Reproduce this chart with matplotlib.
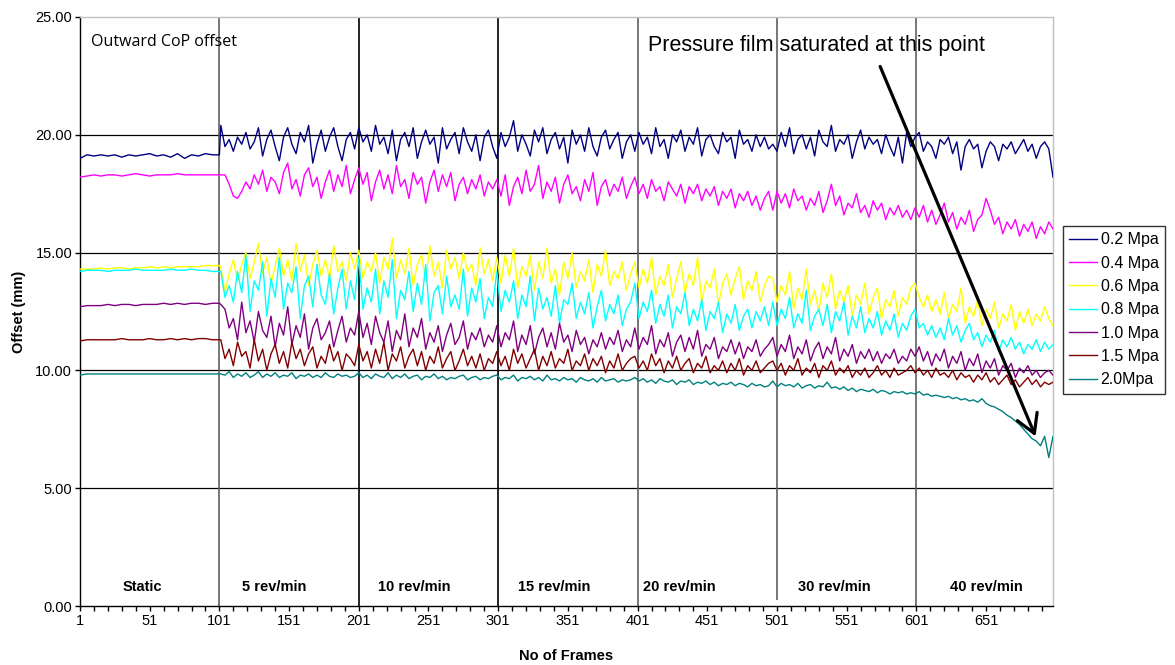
import numpy as np
import matplotlib
matplotlib.use("Agg")
import matplotlib.pyplot as plt

plt.rcParams['font.family'] = ['Liberation Sans', 'DejaVu Sans']

# ---------------- data ----------------
series_names = ["0.2 Mpa", "0.4 Mpa", "0.6 Mpa", "0.8 Mpa", "1.0 Mpa", "1.5 Mpa", "2.0Mpa"]
series_colors = ["#000080", "#FF00FF", "#FFFF00", "#00FFFF", "#800080", "#800000", "#008080"]

static_frames = np.arange(1, 102, 5)      # 21 samples, frames 1..101
dynamic_frames = np.arange(102, 700, 3)   # 200 samples, frames 102..699

segment_names = ["Static", "5 rev/min", "10 rev/min", "15 rev/min", "20 rev/min", "30 rev/min", "40 rev/min"]
segment_bounds = [101, 201, 301, 401, 501, 601]

p02_static = [19.0, 19.15, 19.1, 19.15, 19.1, 19.15, 19.05, 19.15, 19.1, 19.15, 19.2,
              19.1, 19.15, 19.05, 19.2, 19.0, 19.15, 19.1, 19.2, 19.15, 19.15]
p02_dyn = [20.4, 19.5, 19.8, 19.3, 19.9, 19.6, 20.1, 19.4, 19.7, 20.3, 19.1, 19.8, 20.2, 19.5, 18.9, 19.9, 20.3, 19.6, 19.2, 20.1, 19.7, 20.4, 18.8, 19.6, 20.2, 19.3, 19.9, 20.3, 19.5, 18.9, 19.8, 20.1, 19.4,
           20.3, 19.7, 20.0, 19.3, 20.4, 19.6, 19.9, 19.2, 20.2, 18.9, 19.8, 20.1, 19.5, 20.3, 19.0, 19.7, 20.2, 19.6, 19.9, 18.8, 20.3, 19.4, 19.8, 20.1, 19.2, 20.3, 19.7, 19.3, 20.0, 18.9, 19.9, 20.2, 19.5,
           19.0, 20.1, 19.5, 19.9, 20.6, 19.3, 20.0, 19.6, 19.1, 20.2, 19.7, 20.3, 19.2, 19.8, 20.1, 19.4, 19.9, 18.8, 20.2, 19.6, 20.0, 19.3, 20.3, 19.5, 19.1, 19.9, 20.2, 19.4, 19.8, 20.1, 19.0, 19.7, 20.0,
           19.3, 20.1, 19.6, 19.9, 19.2, 20.3, 19.5, 19.8, 19.0, 20.0, 19.7, 20.2, 19.3, 19.9, 19.6, 20.3, 19.1, 19.8, 20.0, 19.5, 19.2, 20.1, 19.7, 19.9, 19.0, 20.2, 19.6, 19.8, 19.3, 20.0, 19.5, 19.9, 19.4,
           19.6, 19.3, 20.1, 19.5, 20.3, 19.2, 19.8, 20.0, 19.4, 19.9, 19.1, 20.2, 19.7, 19.5, 20.4, 19.3, 19.8, 19.6, 20.0, 19.0, 19.7, 20.2, 19.4, 19.9, 19.6, 19.8, 19.2, 20.0, 19.5, 19.1, 19.9, 18.8, 20.1,
           19.5, 19.9, 20.1, 19.3, 19.7, 19.5, 19.0, 19.8, 19.6, 19.9, 19.2, 19.7, 18.5, 19.5, 19.8, 19.4, 19.6, 18.6, 19.3, 19.7, 19.5, 18.9, 19.6, 19.4, 19.7, 19.2, 19.5, 19.8, 19.3, 19.6, 19.0, 19.5, 19.7,
           19.4, 18.2]

p04_static = [18.2, 18.25, 18.3, 18.25, 18.3, 18.3, 18.25, 18.3, 18.35, 18.3, 18.25,
              18.3, 18.3, 18.3, 18.35, 18.3, 18.3, 18.3, 18.3, 18.3, 18.3]
p04_dyn = [18.3, 18.3, 17.9, 17.4, 17.3, 17.6, 18.0, 17.7, 18.3, 17.9, 18.5, 17.6, 18.2, 18.0, 17.5, 18.4, 18.8, 17.7, 18.1, 17.4, 18.3, 18.6, 17.8, 18.2, 17.3, 18.0, 18.5, 17.6, 18.3, 17.8, 18.7, 17.5, 18.1,
           18.6, 17.9, 18.4, 17.2, 18.0, 18.5, 17.7, 18.3, 17.5, 18.7, 17.8, 18.1, 17.3, 18.4, 17.9, 18.2, 17.1, 18.0, 18.5, 17.6, 18.3, 17.8, 18.4, 17.2, 17.9, 18.2, 17.5, 18.1, 17.7, 18.3, 17.4, 18.0, 17.7,
           18.1, 17.4, 18.3, 17.0, 17.8, 18.2, 17.5, 18.5, 17.6, 17.9, 18.7, 17.3, 18.0, 17.6, 18.2, 17.1, 17.9, 18.3, 17.5, 17.8, 17.2, 18.1, 17.6, 18.4, 17.0, 17.8, 18.1, 17.4, 17.9, 17.6, 18.2, 17.3, 17.8,
           18.2, 17.5, 17.9, 17.3, 18.1, 17.6, 17.8, 17.2, 18.0, 17.7, 17.4, 17.9, 17.1, 17.8, 17.5, 17.9, 17.2, 17.7, 17.4, 17.8, 17.0, 17.6, 17.3, 17.7, 16.9, 17.5, 17.2, 17.6, 17.0, 17.4, 16.8, 17.3, 17.6,
           16.8, 17.6, 17.1, 17.5, 16.9, 17.7, 17.2, 17.4, 16.8, 17.3, 17.0, 17.6, 16.7, 17.2, 17.9, 17.0, 17.4, 16.6, 17.1, 16.9, 17.5, 16.7, 17.0, 16.5, 17.2, 16.8, 17.1, 16.4, 16.9, 16.6, 17.0, 16.5, 16.8,
           16.4, 16.9, 16.5, 17.0, 16.3, 16.8, 16.2, 16.6, 17.1, 16.3, 16.7, 16.0, 16.5, 16.2, 16.8, 15.9, 16.4, 16.6, 17.3, 16.8, 16.2, 16.5, 15.8, 16.3, 16.0, 16.4, 15.7, 16.2, 15.9, 16.3, 15.6, 16.1, 15.8,
           16.3, 16.0]

p06_static = [14.3, 14.3, 14.3, 14.35, 14.3, 14.35, 14.35, 14.3, 14.35, 14.35, 14.4,
              14.35, 14.4, 14.35, 14.4, 14.4, 14.4, 14.4, 14.45, 14.45, 14.45]
p06_dyn = [14.4, 13.3, 14.1, 14.7, 13.8, 14.5, 15.0, 13.9, 14.6, 15.4, 14.1, 14.8, 13.7, 14.4, 15.2, 14.0, 14.7, 13.8, 15.4, 14.2, 14.9, 13.6, 14.5, 15.1, 14.0, 14.7, 13.9, 15.3, 14.2, 14.6, 13.8, 15.0, 14.3,
           15.1, 13.9, 14.6, 14.2, 15.0, 13.7, 14.8, 14.3, 15.6, 13.9, 14.7, 14.1, 15.2, 13.6, 14.5, 14.9, 13.8, 15.3, 14.0, 14.6, 13.5, 15.1, 14.3, 14.8, 13.9, 15.0, 14.2, 14.5, 13.6, 15.2, 14.1, 14.7, 13.8,
           14.8, 13.7, 14.9, 14.0, 15.2, 13.5, 14.4, 14.0, 14.9, 13.4, 14.6, 13.9, 15.2, 13.7, 14.3, 13.2, 14.6, 13.9, 15.0, 13.5, 14.2, 13.8, 14.7, 13.3, 14.5, 14.0, 15.1, 13.6, 14.2, 13.9, 14.6, 13.4, 14.1,
           14.6, 13.5, 14.3, 13.7, 14.8, 13.2, 14.0, 13.6, 14.5, 13.1, 13.9, 14.6, 13.3, 14.1, 13.6, 14.8, 12.9, 13.8, 13.5, 14.3, 12.8, 13.7, 14.1, 13.2, 13.9, 14.4, 13.0, 13.8, 13.4, 14.2, 12.9, 13.6, 14.0,
           13.9, 12.9, 13.6, 13.2, 14.2, 12.6, 13.5, 13.0, 14.3, 12.8, 13.4, 12.5, 13.7, 13.1, 14.1, 12.6, 13.4, 12.9, 13.6, 12.3, 13.2, 12.8, 13.7, 12.4, 13.1, 13.5, 12.2, 13.0, 12.7, 13.4, 12.3, 13.1, 12.8,
           13.5, 13.7, 13.1, 12.7, 13.2, 12.5, 13.0, 12.4, 13.3, 12.2, 12.8, 12.5, 13.5, 12.0, 12.7, 12.3, 13.0, 11.9, 12.6, 12.2, 12.9, 11.8, 12.4, 12.1, 12.8, 11.7, 12.5, 12.0, 12.6, 11.9, 12.4, 12.1, 12.7,
           12.2, 11.9]

p08_static = [14.2, 14.25, 14.25, 14.25, 14.2, 14.25, 14.25, 14.25, 14.3, 14.25, 14.25,
              14.25, 14.25, 14.3, 14.25, 14.25, 14.3, 14.25, 14.25, 14.2, 14.2]
p08_dyn = [14.2, 13.1, 13.6, 12.9, 14.2, 13.3, 14.9, 12.5, 13.8, 13.4, 14.6, 12.3, 13.9, 13.1, 14.8, 12.6, 13.7, 13.3, 14.4, 12.2, 13.6, 14.0, 12.7, 14.5, 13.2, 12.8, 14.1, 12.4, 13.5, 14.3, 12.6, 13.8, 13.0,
           14.8, 12.6, 13.5, 12.9, 14.3, 12.4, 13.8, 13.1, 14.7, 12.2, 13.4, 13.0, 14.2, 12.5, 13.7, 12.8, 14.5, 12.1, 13.3, 13.6, 12.4, 14.0, 12.7, 13.2, 12.6, 14.3, 12.3, 13.5, 12.9, 13.9, 12.2, 13.1, 12.7,
           14.2, 12.5, 13.4, 12.9, 13.8, 12.2, 13.2, 12.7, 14.0, 12.1, 13.5, 12.6, 13.1, 12.3, 13.6, 12.0, 13.0, 12.8, 13.7, 12.2, 12.9, 12.4, 13.3, 11.8, 12.7, 13.4, 12.1, 12.8, 12.4, 13.2, 11.9, 12.6, 12.9,
           13.7, 12.2, 12.9, 12.5, 13.4, 12.0, 12.8, 12.3, 13.2, 11.8, 12.7, 12.4, 13.3, 11.9, 12.6, 12.1, 13.0, 11.7, 12.5, 12.2, 12.9, 11.6, 12.4, 12.0, 12.8, 11.7, 12.3, 12.6, 11.8, 12.5, 12.1, 12.7, 11.9,
           12.9, 11.9, 12.6, 12.2, 13.1, 11.8, 12.4, 12.0, 13.4, 11.7, 12.3, 12.6, 11.9, 12.8, 11.6, 12.5, 12.1, 12.9, 11.5, 12.3, 11.8, 12.7, 11.6, 12.2, 11.8, 12.5, 11.5, 12.1, 11.7, 12.4, 11.4, 12.0, 11.7,
           12.3, 12.6, 11.8, 12.0, 11.5, 11.9, 11.4, 11.8, 11.3, 12.2, 11.5, 11.9, 11.2, 11.7, 12.0, 11.3, 11.6, 11.0, 11.5, 11.2, 11.7, 10.8, 11.3, 11.0, 11.4, 10.9, 11.2, 10.7, 11.1, 10.9, 11.3, 10.8, 11.2,
           10.9, 11.1]

p10_static = [12.7, 12.75, 12.75, 12.75, 12.8, 12.75, 12.8, 12.8, 12.75, 12.8, 12.8,
              12.8, 12.85, 12.8, 12.85, 12.8, 12.85, 12.85, 12.8, 12.85, 12.85]
p10_dyn = [12.8, 12.6, 11.8, 12.2, 11.3, 12.9, 11.6, 12.1, 11.2, 12.5, 11.7, 11.4, 12.3, 11.0, 12.0, 11.5, 12.7, 11.1, 11.9, 11.4, 12.4, 10.9, 11.8, 12.2, 11.3, 11.6, 12.1, 11.0, 11.7, 12.3, 11.2, 11.8, 11.5,
           12.5, 11.4, 12.0, 11.1, 12.3, 11.6, 11.2, 12.1, 10.8, 11.7, 11.3, 12.4, 11.0, 11.8, 11.4, 12.2, 10.9, 11.6, 11.2, 11.9, 10.8, 11.5, 12.0, 11.1, 11.4, 12.1, 10.9, 11.6, 11.3, 11.8, 11.0, 11.5, 11.2,
           11.9, 11.0, 11.6, 11.3, 12.1, 10.8, 11.5, 11.1, 11.9, 10.7, 11.4, 11.8, 11.0, 11.6, 10.9, 12.0, 11.2, 11.5, 10.8, 11.7, 11.1, 11.4, 10.7, 11.3, 11.0, 11.6, 10.9, 11.4, 11.1, 11.7, 10.8, 11.3, 11.0,
           11.8, 10.9, 11.4, 11.1, 11.9, 10.7, 11.3, 11.0, 11.6, 10.6, 11.2, 11.5, 10.8, 11.4, 10.9, 11.7, 10.6, 11.1, 10.9, 11.4, 10.5, 11.0, 10.8, 11.3, 10.7, 11.2, 10.5, 11.0, 10.8, 11.3, 10.6, 10.9, 11.1,
           11.4, 10.6, 11.1, 10.8, 11.5, 10.5, 11.0, 10.7, 11.3, 10.4, 10.9, 11.2, 10.5, 11.0, 10.7, 11.4, 10.4, 10.9, 10.6, 11.1, 10.3, 10.8, 10.5, 10.9, 10.4, 10.8, 10.3, 10.7, 10.5, 10.9, 10.3, 10.6, 10.4,
           10.9, 10.6, 11.0, 10.4, 10.8, 10.2, 10.7, 10.4, 10.9, 10.1, 10.6, 10.3, 10.8, 10.0, 10.5, 10.2, 10.7, 9.9, 10.4, 10.1, 10.5, 9.8, 10.2, 10.0, 10.3, 9.7, 10.1, 9.9, 10.2, 9.8, 10.0, 9.7, 9.9,
           10.0, 9.8]

p15_static = [11.25, 11.3, 11.3, 11.3, 11.3, 11.3, 11.35, 11.3, 11.3, 11.3, 11.35,
              11.3, 11.3, 11.35, 11.3, 11.35, 11.3, 11.35, 11.35, 11.3, 11.3]
p15_dyn = [11.3, 10.5, 10.9, 10.2, 11.2, 10.6, 10.8, 10.1, 11.3, 10.4, 10.9, 10.0, 10.7, 11.1, 10.3, 10.8, 10.1, 11.2, 10.5, 10.9, 10.2, 10.7, 11.0, 10.1, 10.6, 10.3, 11.1, 10.4, 10.8, 10.0, 10.7, 10.5, 10.2,
           11.1, 10.4, 10.8, 10.1, 10.9, 10.3, 11.2, 10.0, 10.7, 10.4, 11.0, 10.1, 10.6, 10.9, 10.2, 10.8, 10.0, 10.6, 10.3, 11.0, 10.1, 10.5, 10.8, 10.0, 10.4, 10.9, 10.2, 10.6, 10.1, 10.7, 10.0, 10.5, 10.3,
           10.8, 10.2, 10.6, 10.0, 10.9, 10.3, 10.7, 10.1, 10.5, 10.9, 10.0, 10.6, 10.2, 10.8, 10.1, 10.5, 10.3, 10.9, 10.0, 10.4, 10.2, 10.7, 10.0, 10.5, 10.2, 10.6, 9.9, 10.4, 10.1, 10.7, 10.0, 10.3, 10.5,
           10.6, 10.1, 10.4, 10.0, 10.7, 10.2, 10.5, 9.9, 10.4, 10.1, 10.6, 10.0, 10.3, 10.5, 9.9, 10.3, 10.1, 10.6, 9.9, 10.2, 10.0, 10.4, 9.9, 10.3, 10.0, 10.5, 9.8, 10.2, 10.0, 10.4, 9.9, 10.1, 10.3,
           10.4, 10.0, 10.3, 9.8, 10.2, 10.0, 10.5, 9.8, 10.1, 9.9, 10.3, 9.7, 10.2, 10.0, 10.4, 9.8, 10.1, 9.9, 10.2, 9.7, 10.0, 9.8, 10.1, 9.7, 9.9, 10.2, 9.8, 10.0, 9.7, 10.1, 9.8, 9.9, 10.0,
           10.2, 9.9, 10.1, 9.8, 10.0, 9.7, 10.1, 9.8, 9.9, 9.7, 10.0, 9.6, 9.9, 9.7, 9.8, 9.5, 9.8, 9.6, 9.9, 9.5, 9.7, 9.4, 9.6, 9.8, 9.4, 9.6, 9.3, 9.5, 9.7, 9.4, 9.6, 9.3, 9.5,
           9.4, 9.5]

p20_static = [9.8, 9.85, 9.85, 9.85, 9.85, 9.85, 9.85, 9.85, 9.85, 9.85, 9.85,
              9.85, 9.85, 9.85, 9.85, 9.85, 9.85, 9.85, 9.85, 9.85, 9.85]
p20_dyn = [9.85, 9.8, 9.95, 9.7, 9.85, 9.75, 9.9, 9.7, 9.8, 9.95, 9.7, 9.85, 9.75, 9.9, 9.7, 9.8, 9.75, 9.9, 9.65, 9.8, 9.75, 9.85, 9.7, 9.8, 9.7, 9.9, 9.75, 9.7, 9.85, 9.75, 9.8, 9.7, 9.75,
           9.9, 9.7, 9.8, 9.65, 9.85, 9.75, 9.7, 9.9, 9.65, 9.8, 9.7, 9.85, 9.65, 9.75, 9.8, 9.6, 9.75, 9.7, 9.85, 9.65, 9.75, 9.6, 9.7, 9.65, 9.75, 9.8, 9.6, 9.7, 9.75, 9.6, 9.7, 9.65, 9.75,
           9.8, 9.6, 9.7, 9.65, 9.8, 9.55, 9.7, 9.65, 9.75, 9.6, 9.7, 9.55, 9.8, 9.6, 9.65, 9.55, 9.7, 9.6, 9.65, 9.5, 9.7, 9.6, 9.55, 9.65, 9.5, 9.7, 9.55, 9.6, 9.65, 9.5, 9.6, 9.55, 9.6,
           9.7, 9.55, 9.65, 9.5, 9.6, 9.45, 9.65, 9.55, 9.5, 9.6, 9.4, 9.55, 9.5, 9.6, 9.4, 9.5, 9.45, 9.55, 9.4, 9.5, 9.35, 9.45, 9.4, 9.5, 9.35, 9.45, 9.4, 9.3, 9.45, 9.35, 9.4, 9.3, 9.35,
           9.55, 9.3, 9.45, 9.35, 9.4, 9.3, 9.45, 9.25, 9.35, 9.4, 9.25, 9.35, 9.3, 9.5, 9.25, 9.3, 9.2, 9.3, 9.15, 9.25, 9.1, 9.2, 9.15, 9.1, 9.2, 9.05, 9.15, 9.1, 9.0, 9.1, 9.05, 9.1, 9.0,
           9.05, 9.0, 9.1, 8.95, 9.0, 8.9, 8.95, 8.9, 8.85, 8.9, 8.8, 8.85, 8.75, 8.8, 8.7, 8.75, 8.65, 8.8, 8.6, 8.5, 8.45, 8.35, 8.25, 8.1, 8.0, 7.85, 7.7, 7.5, 7.3, 7.1, 7.0, 6.8, 7.2,
           6.3, 7.2]

static_values = [p02_static, p04_static, p06_static, p08_static, p10_static, p15_static, p20_static]
dynamic_values = [p02_dyn, p04_dyn, p06_dyn, p08_dyn, p10_dyn, p15_dyn, p20_dyn]

# ---------------- figure ----------------
W, H = 1175, 665
fig = plt.figure(figsize=(W / 100, H / 100), dpi=100)
ax = fig.add_axes([80 / W, 1 - 606 / H, (1053 - 80) / W, (606 - 17) / H])

ax.set_xlim(1, 699)
ax.set_ylim(0, 25)

# horizontal grid
for yv in [5, 10, 15, 20]:
    ax.axhline(yv, color="black", lw=0.9, zorder=1)

# segment separators
sep_colors = ["#606060", "black", "black", "#606060", "#606060", "#606060"]
for xb, c in zip(segment_bounds, sep_colors):
    bottom = 0.25 if xb == 501 else 0
    ax.plot([xb, xb], [bottom, 25], color=c, lw=1.2, zorder=1, solid_capstyle="butt")

# data lines
for name, col, sv, dv in zip(series_names, series_colors, static_values, dynamic_values):
    x = np.concatenate([static_frames, dynamic_frames])
    y = np.concatenate([sv, dv])
    ax.plot(x, y, color=col, lw=1.0, label=name, zorder=3)

# segment labels
label_x = [46, 140, 241, 341, 431, 542, 651]
for lx, txt in zip(label_x, segment_names):
    ax.text(lx, 0.8, txt, ha="center", va="center", fontsize=10.5, fontweight="bold")

# spines
for s in ["top", "right"]:
    ax.spines[s].set_color("#c0c0c0")
    ax.spines[s].set_linewidth(1.0)
ax.spines["left"].set_linewidth(1.0)
ax.spines["bottom"].set_linewidth(1.0)

ax.set_yticks([0, 5, 10, 15, 20, 25])
ax.set_yticklabels([f"{v:.2f}" for v in [0, 5, 10, 15, 20, 25]])
ax.set_xticks(np.arange(1, 700, 50))
ax.set_xticks(np.arange(1, 700, 10), minor=True)
ax.tick_params(axis="both", which="major", direction="out", length=3.6, width=1, labelsize=10.5, color="black")
ax.tick_params(axis="x", which="minor", direction="out", length=3.6, width=1, color="black")
ax.tick_params(axis="x", pad=2.5)
ax.tick_params(axis="y", pad=2)

ax.set_ylabel("Offset (mm)", fontsize=10.5, fontweight="bold", labelpad=7)
ax.set_xlabel("No of Frames", fontsize=10.5, fontweight="bold", labelpad=15)

ax.text(0.011, 0.958, "Outward CoP offset", transform=ax.transAxes, fontsize=11.5,
        family=["Open Sans", "DejaVu Sans"], ha="left", va="center")

ax.annotate("", xy=(686.5, 7.2), xytext=(575, 22.9),
            arrowprops=dict(arrowstyle="->,head_length=0.6,head_width=0.35", lw=2.3,
                            color="black", mutation_scale=22, shrinkA=0, shrinkB=0), zorder=5)
fig.text(816 / W, 1 - 45 / H, "Pressure film saturated at this point", fontsize=15.5,
         ha="center", va="center")

leg = ax.legend(loc="upper left", bbox_to_anchor=(1063 / W, 1 - 226 / H),
                bbox_transform=fig.transFigure, fontsize=11.5, frameon=True, fancybox=False,
                edgecolor="black", handlelength=1.75, handletextpad=0.2, labelspacing=0.52,
                borderpad=0.4, borderaxespad=0)
leg.get_frame().set_linewidth(1.0)

fig.savefig("out.png", dpi=100)
